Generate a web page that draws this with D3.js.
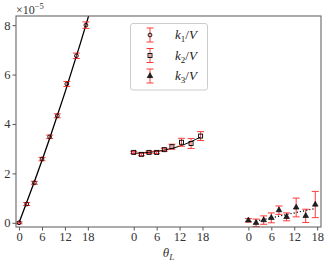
<!DOCTYPE html>
<html>
<head>
<meta charset="utf-8">
<script src="https://cdn.jsdelivr.net/npm/d3@7"></script>
<style>
  body { margin: 0; background: #fff; }
  svg text { font-family: "Liberation Serif", "DejaVu Serif", serif; }
</style>
</head>
<body>
<svg id="chart" width="330" height="265"></svg>
<script>
// angle values (same for each of the three panels)
const theta = [0, 2, 4, 6, 8, 10, 12.5, 15, 17.5];

// rates, in units of 1e-5
const k1 = [0, 0.76, 1.62, 2.58, 3.48, 4.33, 5.62, 6.76, 8.0];
const k1Err = [0.04, 0.06, 0.06, 0.07, 0.07, 0.08, 0.1, 0.11, 0.13];
const k2 = [2.85, 2.77, 2.85, 2.85, 2.96, 3.08, 3.26, 3.21, 3.51];
const k2Err = [0.04, 0.05, 0.05, 0.05, 0.06, 0.1, 0.16, 0.2, 0.18];
const k3 = [0.1, 0.0, 0.11, 0.2, 0.51, 0.24, 0.62, 0.28, 0.74];
const k3Err = [0.07, 0.15, 0.17, 0.2, 0.17, 0.16, 0.38, 0.27, 0.53];

// fit curves
const fit1Theta = [0, 4, 8, 12, 16, 20];
const fit1 = [0, 1.66, 3.41, 5.27, 7.24, 9.3];
const fit2Theta = [0, 4, 8, 12, 17.5];
const fit2 = [2.81, 2.85, 2.94, 3.1, 3.47];
const fit3Theta = [2, 17.5];
const fit3 = [0.07, 0.58];

const groupOffsets = [0, 30, 60];
const xTickLabels = [0, 6, 12, 18];
const yTicks = [0, 2, 4, 6, 8];

const svg = d3.select("#chart");
const margin = { left: 16, right: 9, top: 16, bottom: 38 };
const W = 330, H = 265;

const x = d3.scaleLinear().domain([-0.8, 79]).range([margin.left, W - margin.right]);
const y = d3.scaleLinear().domain([-0.17, 8.37]).range([H - margin.bottom, margin.top]);

svg.append("clipPath").attr("id", "clip")
  .append("rect")
  .attr("x", margin.left).attr("y", margin.top)
  .attr("width", W - margin.left - margin.right)
  .attr("height", H - margin.top - margin.bottom);

const plot = svg.append("g").attr("clip-path", "url(#clip)");

// fit lines
const line = d3.line().x(d => x(d[0])).y(d => y(d[1])).curveMonotoneX;
const lineGen = d3.line().x(d => x(d[0])).y(d => y(d[1])).curve(d3.curveMonotoneX);

plot.append("path")
  .datum(fit1Theta.map((t, i) => [t + groupOffsets[0], fit1[i]]))
  .attr("d", lineGen).attr("fill", "none").attr("stroke", "#000").attr("stroke-width", 1.3);
plot.append("path")
  .datum(fit2Theta.map((t, i) => [t + groupOffsets[1], fit2[i]]))
  .attr("d", lineGen).attr("fill", "none").attr("stroke", "#000").attr("stroke-width", 1);
plot.append("path")
  .datum(fit3Theta.map((t, i) => [t + groupOffsets[2], fit3[i]]))
  .attr("d", lineGen).attr("fill", "none").attr("stroke", "#000").attr("stroke-width", 1.2)
  .attr("stroke-dasharray", "1.2,2");

const series = [
  { vals: k1, errs: k1Err, off: groupOffsets[0], marker: "circle" },
  { vals: k2, errs: k2Err, off: groupOffsets[1], marker: "square" },
  { vals: k3, errs: k3Err, off: groupOffsets[2], marker: "triangle" }
];

const capW = 3.5;
function drawErr(g, cx, cy, lo, hi) {
  const e = g.append("g").attr("stroke", "#ff1a1a").attr("stroke-width", 1).attr("opacity", 0.85);
  e.append("line").attr("x1", cx).attr("x2", cx).attr("y1", lo).attr("y2", hi);
  e.append("line").attr("x1", cx - capW).attr("x2", cx + capW).attr("y1", lo).attr("y2", lo);
  e.append("line").attr("x1", cx - capW).attr("x2", cx + capW).attr("y1", hi).attr("y2", hi);
}
function drawMarker(g, type, cx, cy) {
  if (type === "circle") {
    g.append("circle").attr("cx", cx).attr("cy", cy).attr("r", 1.9)
      .attr("fill", "none").attr("stroke", "#000").attr("stroke-width", 0.9);
  } else if (type === "square") {
    g.append("rect").attr("x", cx - 2).attr("y", cy - 2).attr("width", 4).attr("height", 4)
      .attr("fill", "none").attr("stroke", "#000").attr("stroke-width", 0.9);
  } else {
    g.append("path").attr("d", d3.symbol(d3.symbolTriangle, 14)())
      .attr("transform", `translate(${cx},${cy})`)
      .attr("fill", "#222").attr("stroke", "#000").attr("stroke-width", 0.6);
  }
}

series.forEach(s => {
  theta.forEach((t, i) => {
    const cx = x(t + s.off), cy = y(s.vals[i]);
    drawErr(plot, cx, cy, y(s.vals[i] - s.errs[i]), y(s.vals[i] + s.errs[i]));
    drawMarker(plot, s.marker, cx, cy);
  });
});

// axes
const xTickVals = [];
groupOffsets.forEach(o => xTickLabels.forEach(t => xTickVals.push(t + o)));
const xAxis = svg.append("g")
  .attr("transform", `translate(0,${H - margin.bottom})`)
  .call(d3.axisBottom(x).tickValues(xTickVals).tickSize(3.5).tickPadding(2)
    .tickFormat(d => d3.format("d")(d % 30)));
const yAxis = svg.append("g")
  .attr("transform", `translate(${margin.left},0)`)
  .call(d3.axisLeft(y).tickValues(yTicks).tickSize(3.5).tickPadding(2));

[xAxis, yAxis].forEach(a => {
  a.select(".domain").remove();
  a.selectAll(".tick line").attr("stroke", "#555");
  a.selectAll(".tick text").attr("fill", "#333").style("font-size", "12.5px")
    .style("font-family", "'Liberation Serif', serif");
});

// frame
svg.append("rect")
  .attr("x", margin.left).attr("y", margin.top)
  .attr("width", W - margin.left - margin.right)
  .attr("height", H - margin.top - margin.bottom)
  .attr("fill", "none").attr("stroke", "#666").attr("stroke-width", 1.1);

// offset text
const off = svg.append("text").attr("x", margin.left).attr("y", 14)
  .attr("fill", "#333").style("font-size", "12px");
off.append("tspan").text("×10");
off.append("tspan").attr("dy", -5).style("font-size", "8.5px").text("−5");

// x label
const xl = svg.append("text").attr("x", (margin.left + W - margin.right) / 2).attr("y", 257)
  .attr("text-anchor", "middle").attr("fill", "#333").style("font-size", "13px");
xl.append("tspan").style("font-style", "italic").text("θ");
xl.append("tspan").attr("dy", 3).style("font-size", "9px").style("font-style", "italic").text("L");

// legend
const legend = svg.append("g");
legend.append("rect").attr("x", 130.5).attr("y", 23.5).attr("width", 77).attr("height", 66.5)
  .attr("rx", 2.5).attr("fill", "#fff").attr("fill-opacity", 0.9)
  .attr("stroke", "#ccc").attr("stroke-width", 1);
const labels = ["1", "2", "3"];
const markers = ["circle", "square", "triangle"];
labels.forEach((sub, i) => {
  const ly = 35 + i * 20.5;
  drawErr(legend, 150, ly, ly + 7, ly - 7);
  drawMarker(legend, markers[i], 150, ly);
  const t = legend.append("text").attr("x", 175).attr("y", ly + 4)
    .attr("fill", "#222").style("font-size", "13px");
  t.append("tspan").style("font-style", "italic").text("k");
  t.append("tspan").attr("dy", 3).style("font-size", "9px").text(sub);
  t.append("tspan").attr("dy", -3).text("/");
  t.append("tspan").style("font-style", "italic").text("V");
});
</script>
</body>
</html>
